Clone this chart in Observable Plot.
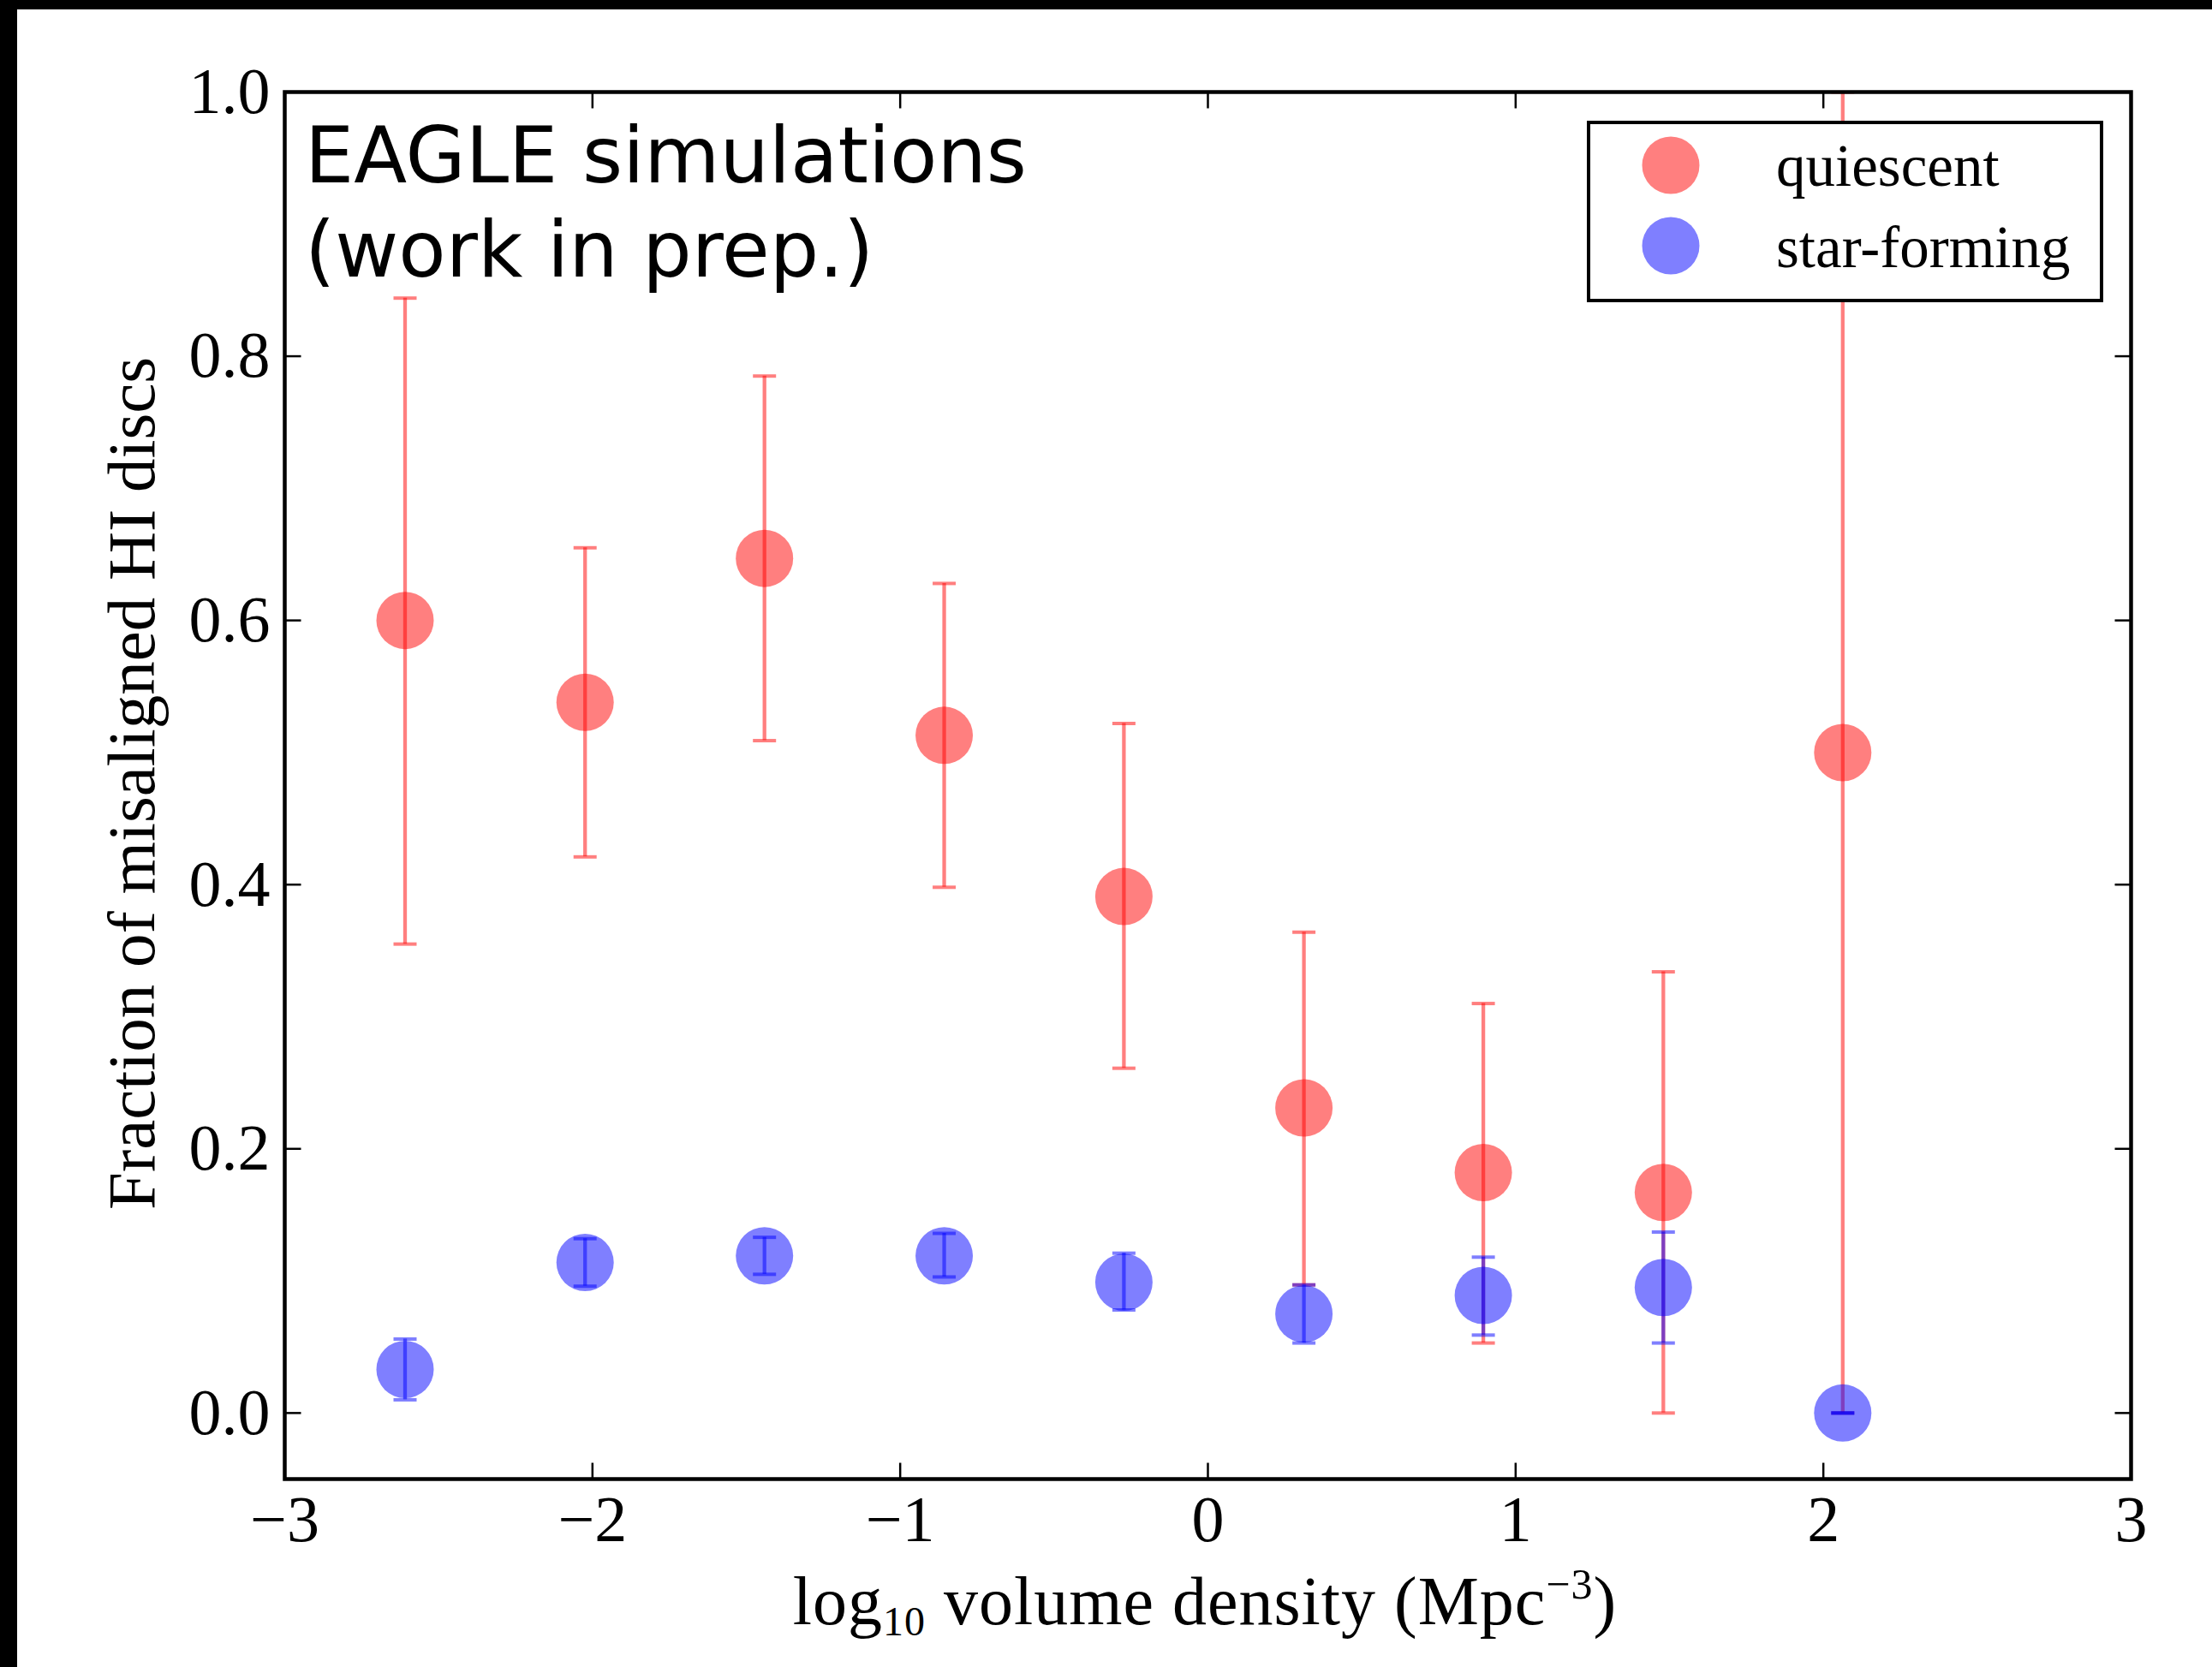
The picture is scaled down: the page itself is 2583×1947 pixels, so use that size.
<!DOCTYPE html>
<html><head><meta charset="utf-8">
<script src="https://cdn.jsdelivr.net/npm/d3@7"></script>
<script src="https://cdn.jsdelivr.net/npm/@observablehq/plot@0.6"></script>
<style>
html,body{margin:0;padding:0;background:#000;width:2583px;height:1947px;overflow:hidden}
#wrap{position:absolute;left:20px;top:11px;width:2563px;height:1936px;background:#fff}
svg{display:block}
</style></head><body><div id="wrap"></div>
<script>
// ---- data ----
const densityBins = [-2.609, -2.024, -1.441, -0.857, -0.273, 0.312, 0.895, 1.480, 2.063];
const quiescentFrac = [0.600, 0.538, 0.647, 0.513, 0.391, 0.231, 0.182, 0.167, 0.500];
const quiescentLo   = [0.355, 0.421, 0.509, 0.398, 0.261, 0.097, 0.053, 0.000, 0.000];
const quiescentHi   = [0.844, 0.655, 0.785, 0.628, 0.522, 0.364, 0.310, 0.334, 1.000];
const starFormingFrac = [0.033, 0.114, 0.119, 0.119, 0.099, 0.075, 0.089, 0.095, 0.000];
const starFormingLo   = [0.010, 0.096, 0.105, 0.103, 0.078, 0.053, 0.059, 0.053, 0.000];
const starFormingHi   = [0.056, 0.132, 0.133, 0.136, 0.121, 0.097, 0.118, 0.137, 0.000];
const seriesNames = ["quiescent", "star-forming"];
const seriesColors = ["#ff0000", "#0000ff"];
const xTicks = [-3, -2, -1, 0, 1, 2, 3];
const xTickLabels = ["−3", "−2", "−1", "0", "1", "2", "3"];
const yTicks = [0, 0.2, 0.4, 0.6, 0.8, 1.0];
const yTickLabels = ["0.0", "0.2", "0.4", "0.6", "0.8", "1.0"];
const xDomain = [-3, 3];
const yDomain = [-0.05, 1.0];
const titleLines = ["EAGLE simulations", "(work in prep.)"];
const yLabel = "Fraction of misaligned HI discs";

// ---- tables ----
const quiescent = densityBins.map((x, i) => ({x, y: quiescentFrac[i], lo: quiescentLo[i], hi: quiescentHi[i]}));
const starForming = densityBins.map((x, i) => ({x, y: starFormingFrac[i], lo: starFormingLo[i], hi: starFormingHi[i]}));

const W = 2563, H = 1936;
const mL = 312, mR = 95, mT = 96, mB = 220;
const TICK = 19;
const serif = "'Liberation Serif', 'DejaVu Serif', serif";

const sym = (dx, dy) => ({draw(ctx) { ctx.moveTo(0, 0); ctx.lineTo(dx, dy); }});
const capSym = {draw(ctx) { ctx.moveTo(-13.5, 0); ctx.lineTo(13.5, 0); }};

function seriesMarks(rows, color) {
  return [
    Plot.ruleX(rows, {x: "x", y1: "lo", y2: "hi", stroke: color, strokeOpacity: 0.5, strokeWidth: 4.3, clip: true}),
    Plot.dot(rows, {x: "x", y: "lo", r: 10, symbol: capSym, fill: "none", stroke: color, strokeOpacity: 0.5, strokeWidth: 4, clip: true}),
    Plot.dot(rows, {x: "x", y: "hi", r: 10, symbol: capSym, fill: "none", stroke: color, strokeOpacity: 0.5, strokeWidth: 4, clip: true}),
    Plot.dot(rows, {x: "x", y: "y", r: 33.5, fill: color, fillOpacity: 0.5, stroke: "none"})
  ];
}

const chart = Plot.plot({
  width: W, height: H,
  marginLeft: mL, marginRight: mR, marginTop: mT, marginBottom: mB,
  style: {fontFamily: serif, fontSize: "76px", background: "white", overflow: "visible", color: "black"},
  x: {domain: xDomain, label: null},
  y: {domain: yDomain, label: null},
  marks: [
    ...seriesMarks(quiescent, seriesColors[0]),
    ...seriesMarks(starForming, seriesColors[1]),
    // inward ticks on all four sides
    Plot.dot(xTicks, {x: d => d, y: () => yDomain[0], r: 1, symbol: sym(0, -TICK), fill: "none", stroke: "black", strokeWidth: 2.5}),
    Plot.dot(xTicks, {x: d => d, y: () => yDomain[1], r: 1, symbol: sym(0, TICK), fill: "none", stroke: "black", strokeWidth: 2.5}),
    Plot.dot(yTicks, {x: () => xDomain[0], y: d => d, r: 1, symbol: sym(TICK, 0), fill: "none", stroke: "black", strokeWidth: 2.5}),
    Plot.dot(yTicks, {x: () => xDomain[1], y: d => d, r: 1, symbol: sym(-TICK, 0), fill: "none", stroke: "black", strokeWidth: 2.5}),
    Plot.frame({stroke: "black", strokeWidth: 4.5}),
    Plot.axisX(xTicks, {tickSize: 0, tickPadding: 19, label: null, tickFormat: d => xTickLabels[xTicks.indexOf(d)]}),
    Plot.axisY(yTicks, {tickSize: 0, tickPadding: 17, label: null, tickFormat: d => yTickLabels[yTicks.indexOf(d)]})
  ]
});

const svg = d3.select(chart);

// title text inside the axes
const t = svg.append("text").attr("text-anchor", "start")
  .attr("font-family", "'DejaVu Sans', sans-serif").attr("font-size", 90.5).attr("fill", "black");
t.append("tspan").attr("x", 336).attr("y", 202).text(titleLines[0]);
t.append("tspan").attr("x", 336).attr("y", 312).text(titleLines[1]);

// y-axis label
svg.append("text")
  .attr("transform", "translate(160,904) rotate(-90)")
  .attr("text-anchor", "middle")
  .attr("font-family", serif).attr("font-size", 79).attr("fill", "black")
  .text(yLabel);

// x-axis label with sub/superscript
const xl = svg.append("text")
  .attr("x", 1387).attr("y", 1886).attr("text-anchor", "middle")
  .attr("font-family", serif).attr("font-size", 80).attr("letter-spacing", 1).attr("fill", "black");
xl.append("tspan").text("log");
xl.append("tspan").attr("font-size", 48).attr("dy", 13).text("10");
xl.append("tspan").attr("dy", -13).text(" volume density (Mpc");
xl.append("tspan").attr("font-size", 50).attr("dy", -30).text("−3");
xl.append("tspan").attr("dy", 30).text(")");

// legend
const lg = svg.append("g").attr("text-anchor", "start");
lg.append("rect").attr("x", 1835).attr("y", 132).attr("width", 599).attr("height", 208)
  .attr("fill", "white").attr("stroke", "black").attr("stroke-width", 4);
const rowsY = [182, 276], baseY = [206, 301];
seriesNames.forEach((name, i) => {
  lg.append("circle").attr("cx", 1931).attr("cy", rowsY[i]).attr("r", 33.5)
    .attr("fill", seriesColors[i]).attr("fill-opacity", 0.5);
  lg.append("text").attr("x", 2054).attr("y", baseY[i])
    .attr("font-family", serif).attr("font-size", 69).attr("fill", "black").text(name);
});

document.getElementById("wrap").appendChild(chart);
</script></body></html>
